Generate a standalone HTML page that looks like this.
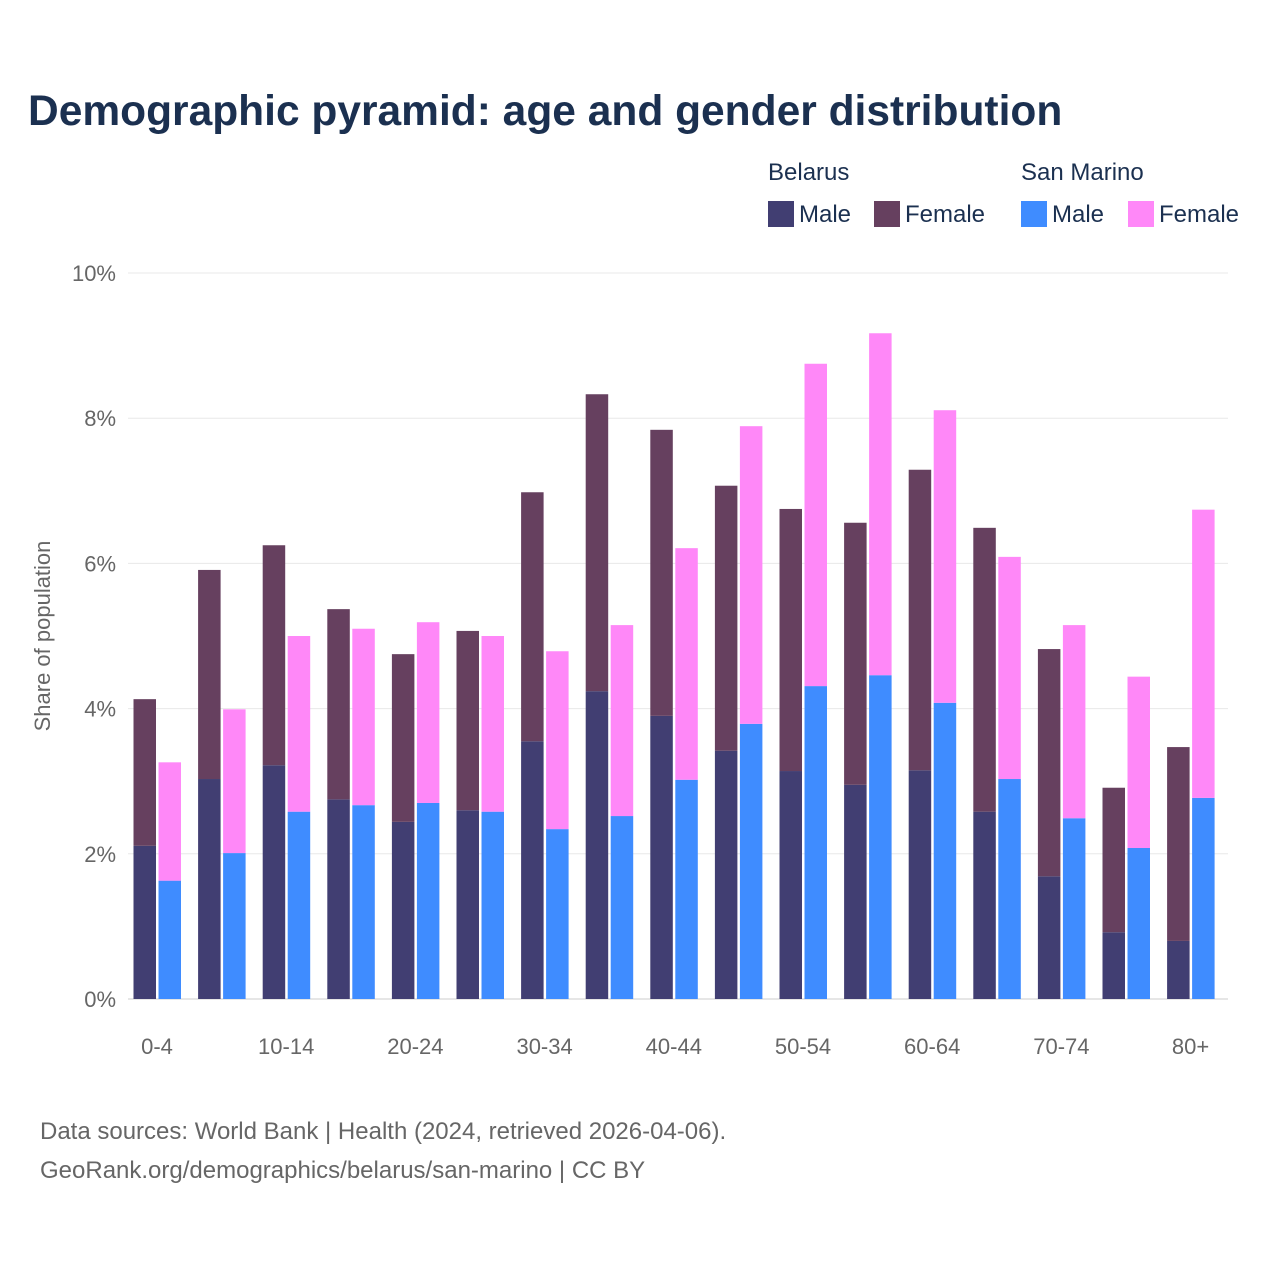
<!DOCTYPE html>
<html><head><meta charset="utf-8"><style>
body{margin:0;background:#fff;font-family:"Liberation Sans",sans-serif;}
</style></head><body>
<svg id="chart" width="1280" height="1280" xmlns="http://www.w3.org/2000/svg" style="display:block">
<text x="28" y="125" font-size="42.5" font-weight="bold" fill="#1b3050">Demographic pyramid: age and gender distribution</text>
<g font-size="24" fill="#1b3050">
<text x="768" y="180">Belarus</text><text x="1021" y="180">San Marino</text>
<g><rect x="768" y="201" width="26" height="26" fill="#413e72"/><text x="799" y="222">Male</text></g>
<g><rect x="874" y="201" width="26" height="26" fill="#66405f"/><text x="905" y="222">Female</text></g>
<g><rect x="1021" y="201" width="26" height="26" fill="#3f8cff"/><text x="1052" y="222">Male</text></g>
<g><rect x="1128" y="201" width="26" height="26" fill="#ff88f8"/><text x="1159" y="222">Female</text></g>
</g>
<text transform="translate(50,636) rotate(-90)" text-anchor="middle" font-size="22" fill="#666">Share of population</text>
<g id="grid"></g><g id="bars"></g><g id="xlabels"></g>
<text x="40" y="1139" font-size="24" fill="#666">Data sources: World Bank | Health (2024, retrieved 2026-04-06).</text>
<text x="40" y="1178" font-size="24" fill="#666">GeoRank.org/demographics/belarus/san-marino | CC BY</text>
</svg>
<script>
const categories=["0-4","5-9","10-14","15-19","20-24","25-29","30-34","35-39","40-44","45-49","50-54","55-59","60-64","65-69","70-74","75-79","80+"];
const tickLabels=["0-4","","10-14","","20-24","","30-34","","40-44","","50-54","","60-64","","70-74","","80+"];
const yTicks=[0,2,4,6,8,10];
const belarusMale=[2.11,3.03,3.22,2.75,2.44,2.60,3.55,4.24,3.90,3.42,3.14,2.95,3.15,2.58,1.69,0.92,0.80];
const belarusFemale=[2.02,2.88,3.03,2.62,2.31,2.47,3.43,4.09,3.94,3.65,3.61,3.61,4.14,3.91,3.13,1.99,2.67];
const smMale=[1.63,2.01,2.58,2.67,2.70,2.58,2.34,2.52,3.02,3.79,4.31,4.46,4.08,3.03,2.49,2.08,2.77];
const smFemale=[1.63,1.98,2.42,2.43,2.49,2.42,2.45,2.63,3.19,4.10,4.44,4.71,4.03,3.06,2.66,2.36,3.97];
const NS="http://www.w3.org/2000/svg";
const y0=999,ppu=72.6;
function yScale(v){return y0-v*ppu;}
function xScale(i){return 157+i*64.6;}
function mk(tag,attrs,parent){const e=document.createElementNS(NS,tag);for(const k in attrs)e.setAttribute(k,attrs[k]);parent.appendChild(e);return e;}
const grid=document.getElementById('grid'),bars=document.getElementById('bars'),xl=document.getElementById('xlabels');
yTicks.forEach(t=>{
 const l=mk('line',{x1:128,x2:1228,y1:yScale(t),y2:yScale(t),stroke:t===0?'#ccc':'#e8e8e8','stroke-width':1},grid);
 
 
 const tx=mk('text',{x:116,y:yScale(t)+8,'text-anchor':'end','font-size':22,fill:'#666'},grid);
 tx.textContent=t+'%';
 
 
});
const w=22.5;
categories.forEach((c,i)=>{
 const cx=xScale(i);
 const series=[[cx-w-1,belarusMale[i],belarusFemale[i],'#413e72','#66405f','belarus'],[cx+1.5,smMale[i],smFemale[i],'#3f8cff','#ff88f8','sanmarino']];
 series.forEach(s=>{
  const m=mk('rect',{x:s[0],y:yScale(s[1]),width:w,height:s[1]*ppu,fill:s[3]},bars);
  
  
  const f=mk('rect',{x:s[0],y:yScale(s[1]+s[2]),width:w,height:s[2]*ppu,fill:s[4]},bars);
  
  
 });
 if(tickLabels[i]){
  const t=mk('text',{x:cx,y:1054,'text-anchor':'middle','font-size':22,fill:'#666'},xl);
  t.textContent=tickLabels[i];
  
  
 }
});
</script>
</body></html>
